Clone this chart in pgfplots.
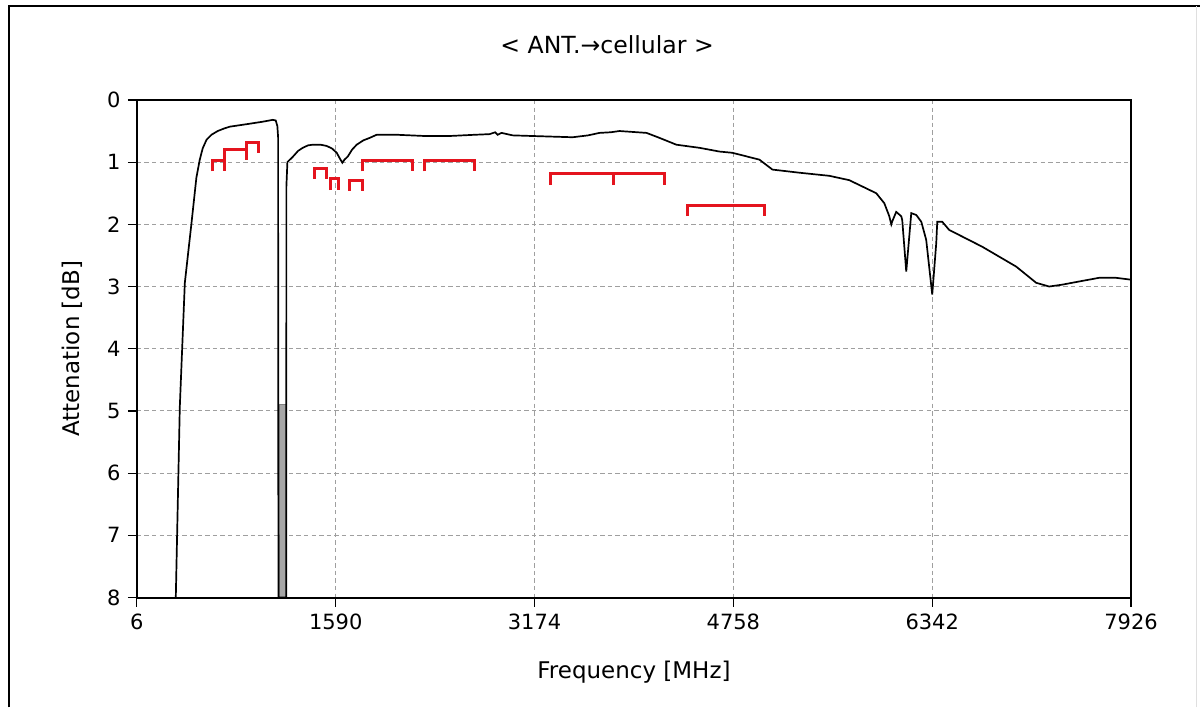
\documentclass[border=0pt]{standalone}
\usepackage{pgfplots}
\pgfplotsset{compat=1.18}
\usepackage{fontspec}
\setmainfont{DejaVu Sans}
\definecolor{bandred}{RGB}{228,20,30}
\begin{document}
\fontsize{10.5}{12}\selectfont
\begin{tikzpicture}
\begin{axis}[
  at={(0,0)}, anchor=south west,
  scale only axis, width=497.5pt, height=249pt,
  xmin=6, xmax=7926, ymin=0, ymax=8, y dir=reverse,
  xtick={6,1590,3174,4758,6342,7926},
  xticklabels={6,1590,3174,4758,6342,7926},
  ytick={0,1,...,8},
  /pgf/number format/assume math mode=true,
  tick pos=left, tick align=outside, major tick length=4.5pt,
  tick style={black, line width=0.6pt},
  axis line style={line width=1pt},
  grid=major,
  major grid style={gray!75, dash pattern=on 2.2pt off 1.6pt, line width=0.5pt},
  xlabel={Frequency [MHz]}, ylabel={Attenation [dB]},
  label style={font=\fontsize{11.5}{13}\selectfont},
  xlabel style={at={(axis description cs:0.5,-0.1506)}, anchor=center},
  ylabel style={at={(axis description cs:-0.0653,0.5)}, anchor=center},
  title={< ANT.→cellular >},
  title style={at={(axis description cs:0.473,1.086)}, anchor=center,
    font=\fontsize{11.8}{13}\selectfont},
]
% notch residue
\addplot[fill=gray!70, draw=gray] coordinates {
  (1140,4.9) (1196,4.9) (1196,8) (1140,8)} -- cycle;
% measured response
\addplot[black, line width=0.85pt] coordinates {
  (316,8.0) (348,4.93) (388,2.94) (441,1.98) (480,1.25) (507,0.96) (530,0.78)
  (561,0.64) (600,0.56) (650,0.50) (700,0.46) (746,0.43) (880,0.39)
  (1009,0.35) (1089,0.32) (1112,0.33) (1125,0.42) (1131,0.6) (1132,4.9)
  (1134,8.0) (1196,8.0) (1197,1.39) (1205,1.0) (1225,0.96) (1250,0.91)
  (1290,0.82) (1327,0.77) (1370,0.73) (1407,0.72) (1470,0.72) (1518,0.74)
  (1560,0.78) (1598,0.85) (1625,0.95) (1643,1.01) (1660,0.96) (1686,0.91)
  (1720,0.80) (1757,0.72) (1810,0.65) (1861,0.61) (1916,0.56) (2076,0.56)
  (2300,0.58) (2497,0.58) (2700,0.56) (2816,0.55) (2860,0.52) (2880,0.56)
  (2911,0.53) (3000,0.57) (3158,0.58) (3477,0.60) (3600,0.57) (3691,0.53)
  (3780,0.52) (3851,0.50) (4066,0.53) (4169,0.61) (4304,0.72) (4488,0.77)
  (4647,0.83) (4750,0.85) (4965,0.96) (5069,1.12) (5283,1.17) (5522,1.22)
  (5681,1.29) (5896,1.5) (5960,1.66) (6000,1.87) (6016,2.0) (6024,1.95)
  (6055,1.8) (6095,1.87) (6103,1.93) (6135,2.76) (6175,1.82) (6215,1.85)
  (6255,1.96) (6294,2.25) (6342,3.13) (6374,2.3) (6382,1.96) (6422,1.96)
  (6477,2.09) (6740,2.36) (7011,2.68) (7170,2.94) (7273,3.0) (7377,2.97)
  (7536,2.91) (7671,2.86) (7806,2.86) (7926,2.89)
};
% bands
\addplot[bandred, line width=1.5pt] coordinates {(611,1.15) (611,0.98) (703,0.98) (703,1.15)};
\addplot[bandred, line width=1.5pt] coordinates {(703,0.97) (703,0.80) (879,0.80) (879,0.97)};
\addplot[bandred, line width=1.5pt] coordinates {(879,0.86) (879,0.69) (971,0.69) (971,0.86)};
\addplot[bandred, line width=1.5pt] coordinates {(1423,1.27) (1423,1.10) (1516,1.10) (1516,1.27)};
\addplot[bandred, line width=1.5pt] coordinates {(1552,1.45) (1552,1.27) (1612,1.27) (1612,1.45)};
\addplot[bandred, line width=1.5pt] coordinates {(1702,1.46) (1702,1.29) (1805,1.29) (1805,1.46)};
\addplot[bandred, line width=1.5pt] coordinates {(1805,1.15) (1805,0.98) (2200,0.98) (2200,1.15)};
\addplot[bandred, line width=1.5pt] coordinates {(2300,1.15) (2300,0.98) (2696,0.98) (2696,1.15)};
\addplot[bandred, line width=1.5pt] coordinates {(3300,1.37) (3300,1.19) (3800,1.19) (3800,1.37)};
\addplot[bandred, line width=1.5pt] coordinates {(3800,1.37) (3800,1.19) (4209,1.19) (4209,1.37)};
\addplot[bandred, line width=1.5pt] coordinates {(4394,1.87) (4394,1.69) (5005,1.69) (5005,1.87)};
\end{axis}
\draw[line width=1pt] (-64pt,-55pt) -- (-64pt,296pt) -- (532pt,296pt);
\draw[gray!25, line width=0.5pt] (530pt,-55pt) -- (530pt,296pt);
\path[use as bounding box] (-68.5pt,-55pt) rectangle (532pt,299pt);
\end{tikzpicture}
\end{document}
